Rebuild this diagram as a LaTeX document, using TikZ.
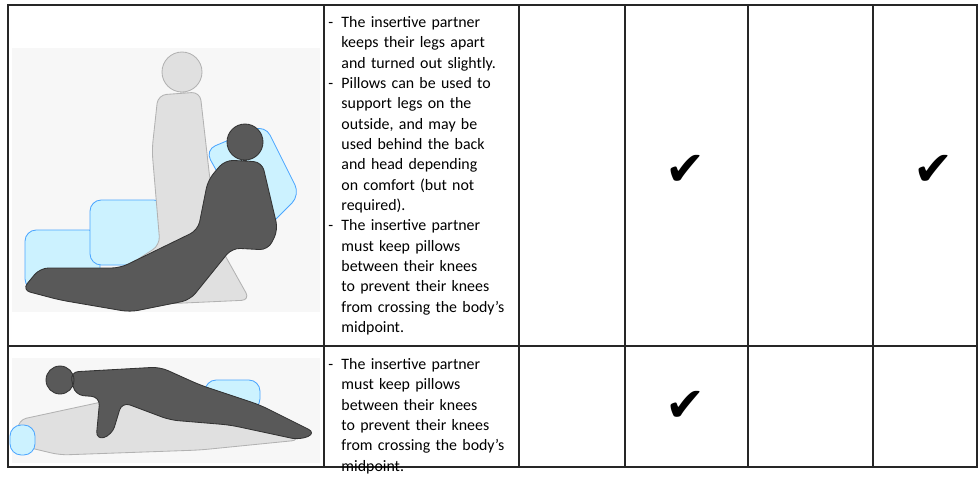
\documentclass[tikz,border=0pt]{standalone}
\usepackage{fontspec}
\setmainfont{Carlito}
\newfontfamily\symfont{DejaVu Sans}
\tikzset{
  grid line/.style={line width=0.9pt, black!85},
  cell text/.style={anchor=north west, text width=4.5cm, align=left, inner sep=0pt,
    font=\fontsize{11.3}{14.45}\selectfont},
  tick mark/.style={font=\symfont\fontsize{34}{34}\selectfont},
  pale body/.style={fill=black!12, draw=black!30, line width=0.6pt, rounded corners=6pt},
  dark body/.style={fill=black!65, draw=black!80, line width=0.6pt, rounded corners=6pt},
  pillow/.style={fill=blue!25!cyan!20, draw=blue!50!cyan!70, line width=0.6pt, rounded corners=8pt}
}
\newcommand{\dashitem}[1]{\par\hyphenpenalty10000 \exhyphenpenalty10000 \hangindent=0.33cm\hangafter=1\makebox[0.33cm][l]{-}#1\par}
\begin{document}
\begin{tikzpicture}[x=0.025cm, y=-0.025cm]
\useasboundingbox (0,0) rectangle (980,476);
% table frame
\draw[grid line] (8,5) rectangle (977,467);
\draw[grid line] (8,346) -- (977,346);
\foreach \cx in {324,519,625,748,873}
  \draw[grid line] (\cx,5) -- (\cx,467);

% first row drawing
\fill[black!3] (12,48) rectangle (320,312);
\draw[pillow] (25,230) rectangle (100,290);
\draw[pillow] (90,200) rectangle (165,265);
\draw[pillow] (205,150) -- (265,125) -- (300,195) -- (255,240) -- cycle;
\draw[pale body] (182,72) circle (20)
  (158,95) -- (200,92) -- (210,180) -- (222,250) -- (250,300) -- (140,305) -- (118,272) -- (160,245) -- (152,150) -- cycle;
\draw[dark body] (245,142) circle (18)
  (225,160) -- (262,162) -- (278,230) -- (268,250) -- (232,248) -- (190,300) -- (130,312) -- (60,300) -- (22,290) -- (40,268) -- (120,268) -- (198,230) -- (208,180) -- cycle;

% second row drawing
\fill[black!3] (12,358) rectangle (320,463);
\draw[pale body] (18,420) -- (120,398) -- (250,420) -- (300,440) -- (200,450) -- (60,455) -- (18,445) -- cycle;
\draw[pillow] (10,425) rectangle (35,455);
\draw[pillow] (205,380) rectangle (260,410);
\draw[dark body] (60,380) circle (14)
  (70,372) -- (160,367) -- (200,385) -- (260,405) -- (316,433) -- (300,440) -- (230,425) -- (170,420) -- (122,402) -- (112,435) -- (96,440) -- (100,397) -- (75,395) -- cycle;

% descriptions
\node[cell text] (desc1) at (328,7) {%
  \dashitem{The insertive partner keeps their legs apart and turned out slightly.}%
  \dashitem{Pillows can be used to support legs on the outside, and may be used behind the back and head depending on comfort (but not required).}%
  \dashitem{The insertive partner must keep pillows between their knees to prevent their knees from crossing the body’s midpoint.}};
\node[cell text] (desc2) at (328,349) {%
  \dashitem{The insertive partner must keep pillows between their knees to prevent their knees from crossing the body’s midpoint.}};

% check marks
\node[tick mark] (tickA) at (686,170) {✔};
\node[tick mark] (tickB) at (934,170) {✔};
\node[tick mark] (tickC) at (686,406) {✔};
\end{tikzpicture}
\end{document}
